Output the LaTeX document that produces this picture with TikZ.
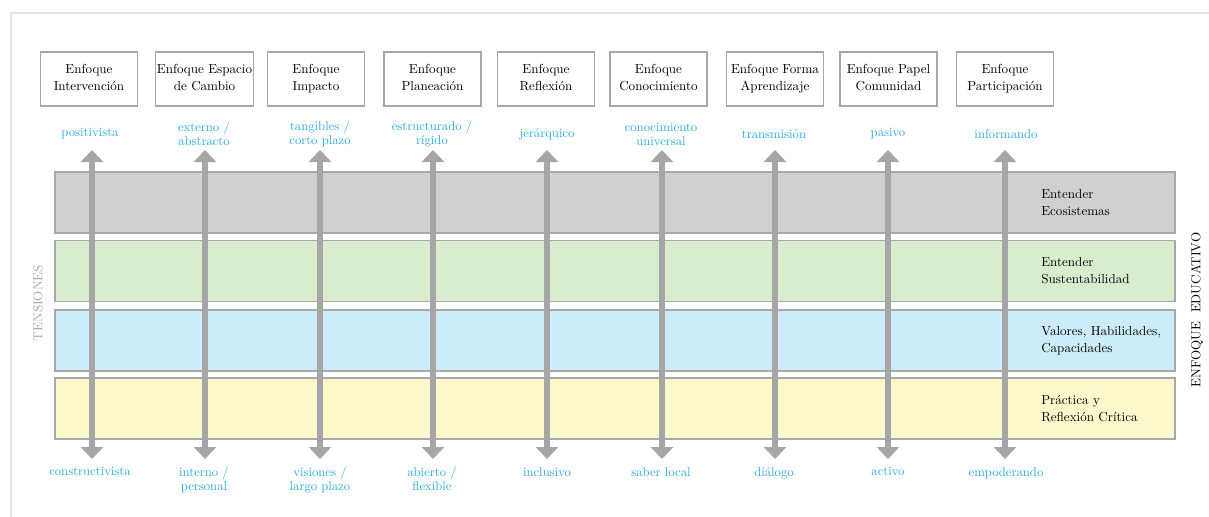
\documentclass[tikz,border=0pt]{standalone}
\usepackage{tikz}
\usetikzlibrary{arrows.meta}
\definecolor{azul}{RGB}{41,171,226}
\definecolor{flecha}{RGB}{166,166,166}
\definecolor{borde}{RGB}{168,168,168}
\definecolor{marco}{RGB}{226,226,226}
\definecolor{gris}{RGB}{208,208,208}
\definecolor{verde}{RGB}{217,236,206}
\definecolor{celeste}{RGB}{203,236,248}
\definecolor{amarillo}{RGB}{251,249,203}
\tikzset{
  enfbox/.style={draw=borde, line width=1.1pt, fill=white, minimum width=72.75pt,
    minimum height=40.5pt, inner sep=1pt, align=center, font=\fontsize{9.8}{12.75}\selectfont},
  azultxt/.style={text=azul, align=center, inner sep=0pt, font=\fontsize{9.5}{10.5}\selectfont},
  banda/.style={draw=borde, line width=1.1pt, minimum width=840pt, minimum height=45.75pt},
  bandtxt/.style={anchor=west, align=left, inner sep=0pt, font=\fontsize{9.8}{12.75}\selectfont},
  tarrow/.style={draw=flecha, line width=4.5pt, {Triangle[width=16.5pt,length=9pt]}-{Triangle[width=16.5pt,length=9pt]}}
}
% box on top of a column
\newcommand{\enfoque}[4]{ \node[enfbox] (#1) at ( #2 , 79 ) {\strut #3\\\strut #4};}
% the two poles of a tension
\newcommand{\polos}[4]{ \node[azultxt] (#1a) at ( #2 , 134 ) {#3};
  \node[azultxt, anchor=north] (#1b) at ( #2 , 467 ) {#4};}
% double arrow of a tension
\newcommand{\tension}[2]{ \coordinate (#1s) at ( #2 , 150 ); \coordinate (#1i) at ( #2 , 459 );
  \draw[tarrow] (#1i) -- (#1s);}
% horizontal band
\newcommand{\banda}[4]{ \node[banda, fill=#2] (#1) at ( 615 , #3 ) {};
  \node[bandtxt] (#1t) at ( 1041 , #3 ) {#4};}

\begin{document}
\begin{tikzpicture}[x=0.75pt, y=-0.75pt]
\useasboundingbox (0,0) rectangle (1209,517);
% frame
\draw[marco, line width=1.8pt] (11,517) -- (11,13) -- (1209,13);
% boxes
\enfoque{e1}{89}{Enfoque}{Intervención}
\enfoque{e2}{204.5}{Enfoque Espacio}{de Cambio}
\enfoque{e3}{316}{Enfoque}{Impacto}
\enfoque{e4}{432.5}{Enfoque}{Planeación}
\enfoque{e5}{546}{Enfoque}{Reflexión}
\enfoque{e6}{658.5}{Enfoque}{Conocimiento}
\enfoque{e7}{775}{Enfoque Forma}{Aprendizaje}
\enfoque{e8}{888.5}{Enfoque Papel}{Comunidad}
\enfoque{e9}{1005}{Enfoque}{Participación}
% bands
\banda{b1}{gris}{202.5}{Entender\\Ecosistemas}
\banda{b2}{verde}{271}{Entender\\Sustentabilidad}
\banda{b3}{celeste}{340.5}{Valores, Habilidades,\\Capacidades}
\banda{b4}{amarillo}{408.5}{Práctica y\\Reflexión Crítica}
% arrows
\tension{t1}{92}
\tension{t2}{205}
\tension{t3}{320}
\tension{t4}{433}
\tension{t5}{547}
\tension{t6}{662}
\tension{t7}{775}
\tension{t8}{888}
\tension{t9}{1005}
% labels of the poles
\polos{p1}{90}{positivista}{constructivista}
\polos{p2}{204}{externo /\\abstracto}{interno /\\personal}
\polos{p3}{320}{tangibles /\\corto plazo}{visiones /\\largo plazo}
\polos{p4}{432}{estructurado /\\rígido}{abierto /\\flexible}
\polos{p5}{547}{jerárquico}{inclusivo}
\polos{p6}{661}{conocimiento\\universal}{saber local}
\polos{p7}{774}{transmisión}{diálogo}
\polos{p8}{888}{pasivo}{activo}
\polos{p9}{1006}{informando}{empoderando}
% side titles
\node[rotate=90, text=borde, font=\fontsize{9.8}{12}\selectfont] (ten) at (38,303) {TENSIONES};
\node[rotate=90, font=\fontsize{9.8}{12}\selectfont] (edu) at (1197,310) {ENFOQUE\ \ EDUCATIVO};
\end{tikzpicture}
\end{document}
